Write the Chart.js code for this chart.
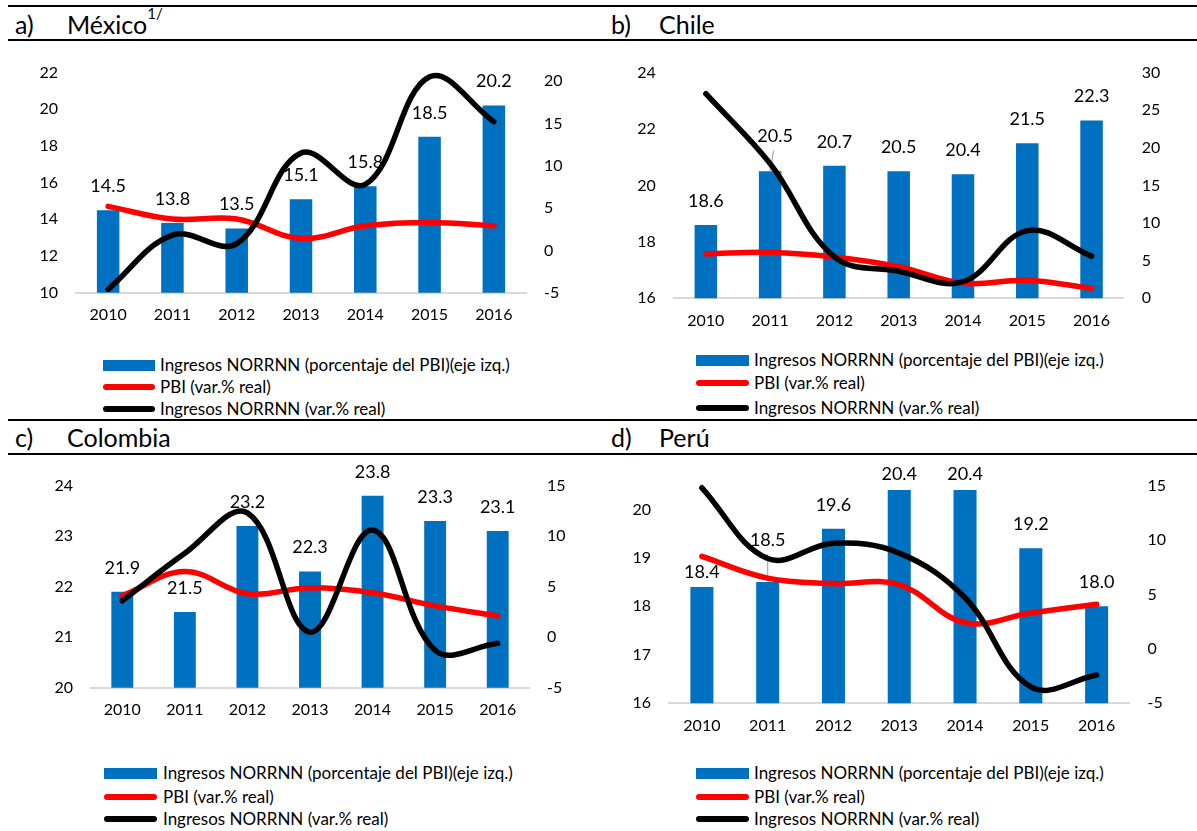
<!DOCTYPE html>
<html>
<head>
<meta charset="utf-8">
<title>Ingresos NORRNN y PBI</title>
<script src="https://cdn.jsdelivr.net/npm/chart.js@4.4.1/dist/chart.umd.min.js"></script>
<style>
  html, body { margin: 0; padding: 0; background: #fff; }
  #page { position: relative; width: 1197px; height: 831px; overflow: hidden; font-family: Lato, "Open Sans", sans-serif; color: #000; background: #fff; }
  .rule { position: absolute; left: 8px; right: 0; height: 2px; background: #000; }
  .head { position: absolute; font-size: 25px; line-height: 30px; white-space: nowrap; }
  .head sup { font-size: 15px; position: relative; top: -3px; vertical-align: top; line-height: 1; }
  canvas { position: absolute; }
  .lg-row { position: absolute; height: 22px; white-space: nowrap; font-size: 17px; line-height: 22px; }
  .lg-sw { position: absolute; left: 0; }
  .lg-tx { position: absolute; top: 0; }
</style>
</head>
<body>
<div id="page"></div>
<script>
// Years on the category axis
const years = ['2010', '2011', '2012', '2013', '2014', '2015', '2016'];

// México
const mexicoShare   = [14.5, 13.8, 13.5, 15.1, 15.8, 18.5, 20.2];
const mexicoGdp     = [5.2, 3.7, 3.7, 1.4, 2.9, 3.3, 2.9];
const mexicoRevenue = [-4.6, 1.8, 0.8, 11.5, 7.8, 20.5, 15.2];
const mexicoLeftTicks  = [10, 12, 14, 16, 18, 20, 22];
const mexicoRightTicks = [-5, 0, 5, 10, 15, 20];

// Chile
const chileShare   = [18.6, 20.5, 20.7, 20.5, 20.4, 21.5, 22.3];
const chileGdp     = [5.9, 6.1, 5.5, 4.2, 2.0, 2.4, 1.3];
const chileRevenue = [27.2, 17.9, 5.5, 3.6, 2.2, 9.0, 5.6];
const chileLeftTicks  = [16, 18, 20, 22, 24];
const chileRightTicks = [0, 5, 10, 15, 20, 25, 30];

// Colombia
const colombiaShare   = [21.9, 21.5, 23.2, 22.3, 23.8, 23.3, 23.1];
const colombiaGdp     = [4.1, 6.5, 4.3, 4.9, 4.4, 3.1, 2.1];
const colombiaRevenue = [3.6, 8.3, 12.3, 0.5, 10.6, -1.3, -0.6];
const colombiaLeftTicks  = [20, 21, 22, 23, 24];
const colombiaRightTicks = [-5, 0, 5, 10, 15];

// Perú
const peruShare   = [18.4, 18.5, 19.6, 20.4, 20.4, 19.2, 18.0];
const peruGdp     = [8.5, 6.5, 6.0, 5.9, 2.4, 3.3, 4.1];
const peruRevenue = [14.8, 8.3, 9.7, 8.8, 4.7, -3.5, -2.4];
const peruLeftTicks  = [16, 17, 18, 19, 20];
const peruRightTicks = [-5, 0, 5, 10, 15];

const legendLabels = [
  'Ingresos NORRNN (porcentaje del PBI)(eje izq.)',
  'PBI (var.% real)',
  'Ingresos NORRNN (var.% real)'
];

const BLUE = '#0070C0';
const RED = '#FF0000';
const BLACK = '#000000';
const FONT = 'Lato';

const page = document.getElementById('page');

// Horizontal rules framing the panel headers
[5, 39, 419, 453].forEach(function (top) {
  const r = document.createElement('div');
  r.className = 'rule';
  r.style.top = top + 'px';
  page.appendChild(r);
});

// Panel layout: canvas box, plot area (page coords), header and legend placement
const panels = [
  {
    tag: 'a)', name: 'México', sup: '1/', head: { tagX: 15, nameX: 67, cy: 24 },
    canvas: { x: 0, y: 45, w: 600, h: 295 }, plot: { l: 76, r: 526, t: 70.7, b: 292.7 },
    share: mexicoShare, gdp: mexicoGdp, rev: mexicoRevenue,
    left: { min: 10, max: 22, ticks: mexicoLeftTicks },
    right: { min: -5, max: 21, ticks: mexicoRightTicks },
    nudge: {},
    legend: { swX: 103, swW: 52, txX: 160, rows: [365, 387, 409] }
  },
  {
    tag: 'b)', name: 'Chile', sup: '', head: { tagX: 611, nameX: 659, cy: 24 },
    canvas: { x: 600, y: 45, w: 597, h: 295 }, plot: { l: 673.7, r: 1123.7, t: 70.7, b: 298.3 },
    share: chileShare, gdp: chileGdp, rev: chileRevenue,
    left: { min: 16, max: 24, ticks: chileLeftTicks },
    right: { min: 0, max: 30, ticks: chileRightTicks },
    nudge: { 1: { dx: 5, dy: 11, leader: true } },
    legend: { swX: 696, swW: 53, txX: 754, rows: [360, 383, 408] }
  },
  {
    tag: 'c)', name: 'Colombia', sup: '', head: { tagX: 15, nameX: 67, cy: 437 },
    canvas: { x: 0, y: 458, w: 600, h: 282 }, plot: { l: 91, r: 529, t: 483.3, b: 687.7 },
    share: colombiaShare, gdp: colombiaGdp, rev: colombiaRevenue,
    left: { min: 20, max: 24, ticks: colombiaLeftTicks },
    right: { min: -5, max: 15, ticks: colombiaRightTicks },
    nudge: {},
    legend: { swX: 104, swW: 53, txX: 163, rows: [773, 797, 819] }
  },
  {
    tag: 'd)', name: 'Perú', sup: '', head: { tagX: 611, nameX: 659, cy: 437 },
    canvas: { x: 600, y: 458, w: 597, h: 290 }, plot: { l: 669, r: 1129.5, t: 483.3, b: 703.3 },
    share: peruShare, gdp: peruGdp, rev: peruRevenue,
    left: { min: 16, max: 20.49, ticks: peruLeftTicks },
    right: { min: -5, max: 15, ticks: peruRightTicks },
    nudge: { 0: { dy: -9 }, 1: { dy: 18, leader: true }, 3: { dy: -8 }, 4: { dy: -8 } },
    legend: { swX: 696, swW: 53, txX: 754, rows: [773, 797, 819] }
  }
];

// Value labels above the bars; drawn right after the bars so the lines pass over them
const barValueLabels = {
  id: 'barValueLabels',
  afterDatasetDraw(chart, args, opts) {
    if (args.index !== 0) return;
    const ctx = chart.ctx;
    const values = chart.data.datasets[0].data;
    ctx.save();
    ctx.font = opts.size + 'px ' + FONT;
    ctx.fillStyle = '#000';
    ctx.textAlign = 'center';
    ctx.textBaseline = 'middle';
    args.meta.data.forEach(function (bar, i) {
      const n = opts.nudge[i] || {};
      const x = bar.x + (n.dx || 0);
      const y = bar.y - opts.offset - (n.dy || 0);
      if (n.leader) {
        ctx.save();
        ctx.strokeStyle = '#A6A6A6';
        ctx.lineWidth = 1.2;
        ctx.beginPath();
        ctx.moveTo(x - 0.3 * (n.dx || 0), y + 14);
        ctx.lineTo(bar.x, bar.y);
        ctx.stroke();
        ctx.restore();
      }
      ctx.fillText(values[i].toFixed(1), x, y);
    });
    ctx.restore();
  }
};

function addHeader(p) {
  const t = document.createElement('div');
  t.className = 'head';
  t.style.left = p.head.tagX + 'px';
  t.style.top = (p.head.cy - 15) + 'px';
  t.textContent = p.tag;
  page.appendChild(t);
  const n = document.createElement('div');
  n.className = 'head';
  n.style.left = p.head.nameX + 'px';
  n.style.top = (p.head.cy - 15) + 'px';
  n.textContent = p.name;
  if (p.sup) {
    const s = document.createElement('sup');
    s.textContent = p.sup;
    n.appendChild(s);
  }
  page.appendChild(n);
}

function addLegend(p) {
  const L = p.legend;
  const swatches = [
    { color: BLUE, h: 11, radius: 0 },
    { color: RED, h: 5.5, radius: 3 },
    { color: BLACK, h: 5.5, radius: 3 }
  ];
  legendLabels.forEach(function (label, i) {
    const row = document.createElement('div');
    row.className = 'lg-row';
    row.style.left = L.swX + 'px';
    row.style.top = (L.rows[i] - 11) + 'px';
    const sw = document.createElement('div');
    sw.className = 'lg-sw';
    sw.style.width = L.swW + 'px';
    sw.style.height = swatches[i].h + 'px';
    sw.style.top = (11 - swatches[i].h / 2) + 'px';
    sw.style.background = swatches[i].color;
    sw.style.borderRadius = swatches[i].radius + 'px';
    row.appendChild(sw);
    const tx = document.createElement('div');
    tx.className = 'lg-tx';
    tx.style.left = (L.txX - L.swX) + 'px';
    tx.textContent = label;
    row.appendChild(tx);
    page.appendChild(row);
  });
}

function lineDataset(label, data, color) {
  return {
    type: 'line', label: label, data: data, yAxisID: 'yR',
    borderColor: color, backgroundColor: color, borderWidth: 5.5,
    tension: 0.38, pointRadius: 0, pointHoverRadius: 0,
    borderCapStyle: 'round', borderJoinStyle: 'round',
    fill: false, clip: false
  };
}

function buildChart(p) {
  const c = document.createElement('canvas');
  c.width = p.canvas.w;
  c.height = p.canvas.h;
  c.style.left = p.canvas.x + 'px';
  c.style.top = p.canvas.y + 'px';
  c.style.width = p.canvas.w + 'px';
  c.style.height = p.canvas.h + 'px';
  page.appendChild(c);

  const leftW = p.plot.l - p.canvas.x;
  const rightW = p.canvas.x + p.canvas.w - p.plot.r;
  const padTop = p.plot.t - p.canvas.y;
  const xH = p.canvas.y + p.canvas.h - p.plot.b;
  const tickFont = { family: FONT, size: 16 };

  const red = lineDataset(legendLabels[1], p.gdp, RED);
  red.order = 2;
  const black = lineDataset(legendLabels[2], p.rev, BLACK);
  black.order = 1;

  new Chart(c, {
    type: 'bar',
    data: {
      labels: years,
      datasets: [
        {
          type: 'bar', label: legendLabels[0], data: p.share, yAxisID: 'yL',
          backgroundColor: BLUE, borderWidth: 0,
          categoryPercentage: 1, barPercentage: 0.35, order: 3
        },
        red,
        black
      ]
    },
    options: {
      responsive: false,
      animation: false,
      devicePixelRatio: 1,
      layout: { padding: { top: padTop, left: 0, right: 0, bottom: 0 } },
      elements: { line: { capBezierPoints: false } },
      plugins: {
        legend: { display: false },
        tooltip: { enabled: false },
        barValueLabels: { offset: 24, size: 18, nudge: p.nudge }
      },
      scales: {
        x: {
          grid: { display: false, drawTicks: false },
          border: { display: true, color: '#D9D9D9', width: 2 },
          ticks: { color: '#000', font: tickFont, padding: 13, maxRotation: 0, autoSkip: false },
          afterFit(s) { s.height = xH; }
        },
        yL: {
          position: 'left', min: p.left.min, max: p.left.max,
          grid: { display: false, drawTicks: false },
          border: { display: false },
          ticks: { color: '#000', font: tickFont, padding: 18 },
          afterBuildTicks(s) { s.ticks = p.left.ticks.map(function (v) { return { value: v }; }); },
          afterFit(s) { s.width = leftW; }
        },
        yR: {
          position: 'right', min: p.right.min, max: p.right.max,
          grid: { display: false, drawTicks: false },
          border: { display: false },
          ticks: { color: '#000', font: tickFont, padding: 18 },
          afterBuildTicks(s) { s.ticks = p.right.ticks.map(function (v) { return { value: v }; }); },
          afterFit(s) { s.width = rightW; }
        }
      }
    },
    plugins: [barValueLabels]
  });
}

function drawAll() {
  panels.forEach(function (p) {
    addHeader(p);
    addLegend(p);
    buildChart(p);
  });
}

if (document.fonts && document.fonts.load) {
  Promise.all([document.fonts.load('16px Lato'), document.fonts.load('18px Lato')])
    .then(drawAll, drawAll);
} else {
  drawAll();
}
</script>
</body>
</html>
